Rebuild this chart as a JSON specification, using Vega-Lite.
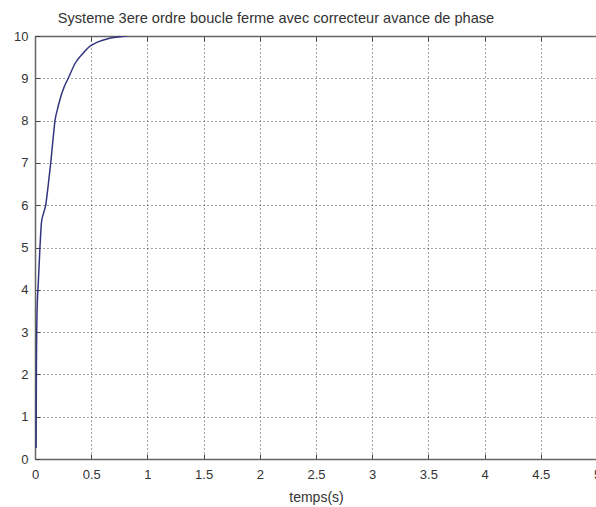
{
  "$schema": "https://vega.github.io/schema/vega-lite/v6.json",
  "width": 562,
  "height": 423,
  "autosize": {"type": "none"},
  "padding": {"left": 35, "top": 36, "right": 0, "bottom": 48},
  "background": "white",
  "config": {
    "view": {"stroke": "#666666", "strokeWidth": 1},
    "font": "Liberation Sans"
  },
  "title": {
    "text": "Systeme 3ere ordre boucle ferme avec correcteur avance de phase",
    "fontSize": 14.6,
    "fontWeight": "normal",
    "color": "#333333",
    "anchor": "middle",
    "dx": -40,
    "offset": 4,
    "font": "Liberation Sans"
  },
  "data": {
    "values": [
      {"t": 0.010, "y": 0.26},
      {"t": 0.012, "y": 1.9},
      {"t": 0.018, "y": 3.45},
      {"t": 0.030, "y": 4.2},
      {"t": 0.044, "y": 5.0},
      {"t": 0.058, "y": 5.6},
      {"t": 0.075, "y": 5.8},
      {"t": 0.095, "y": 6.0},
      {"t": 0.110, "y": 6.3},
      {"t": 0.125, "y": 6.65},
      {"t": 0.140, "y": 7.0},
      {"t": 0.160, "y": 7.55},
      {"t": 0.178, "y": 8.0},
      {"t": 0.200, "y": 8.27},
      {"t": 0.222, "y": 8.5},
      {"t": 0.260, "y": 8.8},
      {"t": 0.296, "y": 9.0},
      {"t": 0.356, "y": 9.35},
      {"t": 0.430, "y": 9.6},
      {"t": 0.490, "y": 9.76},
      {"t": 0.560, "y": 9.86},
      {"t": 0.640, "y": 9.93},
      {"t": 0.720, "y": 9.97},
      {"t": 0.820, "y": 10.0}
    ]
  },
  "layer": [
    {
      "mark": {"type": "line", "color": "#35357f", "strokeWidth": 1.5, "clip": true, "interpolate": "monotone"},
      "encoding": {
        "x": {
          "field": "t", "type": "quantitative",
          "scale": {"domain": [0, 5], "nice": false, "zero": false},
          "axis": {
            "orient": "bottom",
            "title": "temps(s)",
            "titleFontSize": 14, "titleFontWeight": "normal", "titleColor": "#333333",
            "titlePadding": 9,
            "values": [0, 0.5, 1, 1.5, 2, 2.5, 3, 3.5, 4, 4.5, 5],
            "format": "~r",
            "labelFontSize": 13, "labelColor": "#333333",
            "labelPadding": 14, "labelFlush": false, "labelOverlap": false,
            "tickSize": -5, "tickColor": "#444444", "tickWidth": 1,
            "domainColor": "#666666", "domainWidth": 1.5,
            "grid": true, "gridDash": [1, 3], "gridColor": "#333333", "gridOpacity": 0.9, "gridWidth": 1
          }
        },
        "y": {
          "field": "y", "type": "quantitative",
          "scale": {"domain": [0, 10], "nice": false},
          "axis": {
            "title": null,
            "values": [0, 1, 2, 3, 4, 5, 6, 7, 8, 9, 10],
            "format": "~r",
            "labelFontSize": 13, "labelColor": "#333333",
            "labelPadding": 12, "labelFlush": false, "labelOverlap": false,
            "tickSize": -5, "tickColor": "#444444", "tickWidth": 1,
            "domainColor": "#666666", "domainWidth": 1.5,
            "grid": true, "gridDash": [1, 3], "gridColor": "#333333", "gridOpacity": 0.9, "gridWidth": 1
          }
        }
      }
    },
    {
      "mark": {"type": "line", "strokeOpacity": 0},
      "encoding": {
        "x": {
          "field": "t", "type": "quantitative",
          "scale": {"domain": [0, 5], "nice": false, "zero": false},
          "axis": {
            "orient": "top", "title": null, "labels": false,
            "values": [0, 0.5, 1, 1.5, 2, 2.5, 3, 3.5, 4, 4.5, 5],
            "tickSize": -5, "tickColor": "#444444", "tickWidth": 1,
            "domainColor": "#666666", "domainWidth": 1.5, "grid": false
          }
        },
        "y": {"field": "y", "type": "quantitative", "axis": null}
      }
    }
  ],
  "resolve": {"axis": {"x": "independent", "y": "independent"}}
}
